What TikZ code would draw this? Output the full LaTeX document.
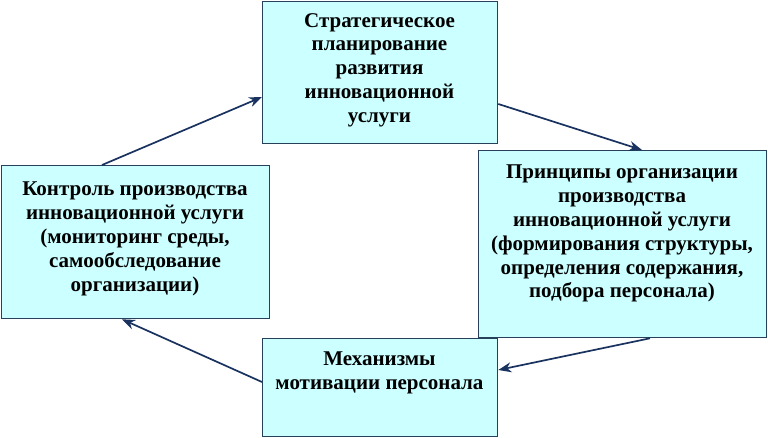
\documentclass[tikz,border=0pt]{standalone}
\usepackage{fontspec}
\setmainfont{Liberation Serif}
\usetikzlibrary{arrows.meta}
\definecolor{boxfill}{RGB}{204,255,255}
\definecolor{boxline}{RGB}{40,65,90}
\definecolor{arrowcol}{RGB}{25,50,95}
\tikzset{
  box/.style={draw=boxline, fill=boxfill, line width=1.3pt, rectangle, anchor=north west, inner sep=0pt},
  boxtext/.style={anchor=north, align=center, inner sep=0pt, font=\fontsize{21pt}{23.8pt}\selectfont\bfseries, text=black},
  conn/.style={draw=arrowcol, line width=1.7pt, -{Stealth[length=13pt,width=10pt]}}
}
\begin{document}
\begin{tikzpicture}[x=1pt,y=-1pt]
\useasboundingbox (0,0) rectangle (768,438);
% boxes
\node[box, minimum width=235pt, minimum height=142pt] (T) at (262,1) {};
\node[box, minimum width=268pt, minimum height=153pt] (L) at (1,165) {};
\node[box, minimum width=288pt, minimum height=187pt] (R) at (478,150) {};
\node[box, minimum width=235pt, minimum height=98pt] (B) at (262,338) {};
% texts
\node[boxtext] (Tt) at (379.5,13) {Стратегическое\\планирование\\развития\\инновационной\\услуги};
\node[boxtext] (Lt) at (135,182) {Контроль производства\\инновационной услуги\\(мониторинг среды,\\самообследование\\организации)};
\node[boxtext] (Rt) at (622,165) {Принципы организации\\производства\\инновационной услуги\\(формирования структуры,\\определения содержания,\\подбора персонала)};
\node[boxtext] (Bt) at (379.5,352) {Механизмы\\мотивации персонала};
% connector end points
\coordinate (a1) at ([xshift=101pt]L.north west);
\coordinate (a2) at ([yshift=-96pt]T.north west);
\coordinate (b1) at ([yshift=-103pt]T.north east);
\coordinate (b2) at ([xshift=164pt]R.north west);
\coordinate (c1) at ([xshift=172pt]R.south west);
\coordinate (c2) at ([yshift=-32pt]B.north east);
\coordinate (d1) at ([yshift=-44pt]B.north west);
\coordinate (d2) at ([xshift=121pt]L.south west);
\draw[conn] (a1) -- (a2);
\draw[conn] (b1) -- (b2);
\draw[conn] (c1) -- (c2);
\draw[conn] (d1) -- (d2);
\end{tikzpicture}
\end{document}
